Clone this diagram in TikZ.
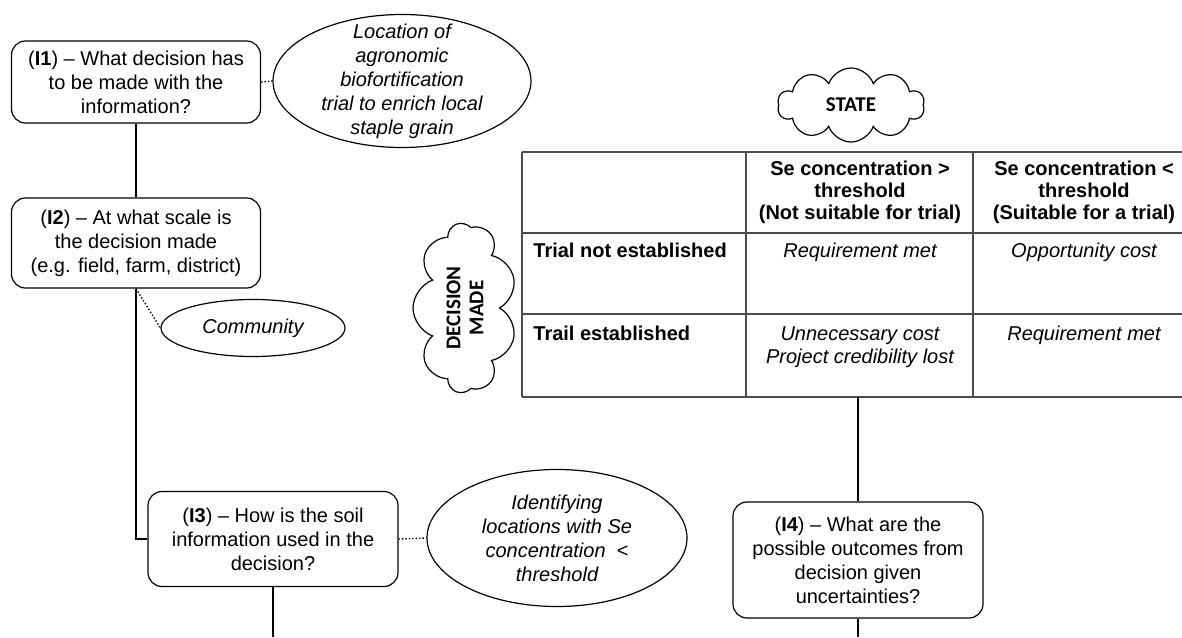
\documentclass[tikz,border=0pt]{standalone}
\usepackage{fontspec}
\setmainfont{Liberation Sans}
\newfontfamily\cloudfont{Carlito}
\usetikzlibrary{shapes.geometric,shapes.symbols}
\tikzset{
  qbox/.style={draw, line width=.6pt, rounded corners=7pt, align=center,
    minimum width=124.5pt, inner sep=2pt},
  note/.style={ellipse, draw, line width=.6pt, inner sep=0pt, inner ysep=-20pt,
    align=center, font=\fontsize{10}{12}\selectfont\itshape},
  link/.style={line width=.9pt},
  dotlink/.style={line width=.7pt, densely dotted},
  tabline/.style={line width=1pt, black!70},
  hdcell/.style={align=center, inner sep=0pt, font=\fontsize{10}{10.9}\selectfont\bfseries},
  rowcell/.style={anchor=north west, inner sep=0pt, font=\fontsize{10}{12}\selectfont\bfseries},
  outcell/.style={anchor=north, align=center, inner sep=0pt, font=\fontsize{10}{11.8}\selectfont\itshape},
  puff/.style={cloud, draw, line width=.6pt, cloud puffs=10, cloud puff arc=140, cloud ignores aspect,
    align=center, inner sep=0pt, font=\cloudfont\fontsize{10.5}{11.5}\selectfont\bfseries},
}
\begin{document}
\begin{tikzpicture}[x=.5pt, y=-.5pt, font=\fontsize{10}{12}\selectfont]
  \useasboundingbox (0,0) rectangle (1182,637);
  % question boxes
  \node[qbox, minimum height=41pt] (i1) at (136,82) {(\textbf{I1}) -- What decision has\\to be made with the\\information?};
  \node[qbox, minimum height=45pt] (i2) at (136,243) {(\textbf{I2}) -- At what scale is\\the decision made\\(e.g. field, farm, district)};
  \node[qbox, minimum width=125pt, minimum height=47.5pt] (i3) at (273,539) {(\textbf{I3}) -- How is the soil\\information used in the\\decision?};
  \node[qbox, minimum width=125pt, minimum height=58pt] (i4) at (858,560) {(\textbf{I4}) -- What are the\\possible outcomes from\\decision given\\uncertainties?};
  % answers
  \node[note, minimum width=129pt, minimum height=66.5pt] (loc) at (402,81) {Location of\\agronomic\\biofortification\\trial to enrich local\\staple grain};
  \node[note, minimum width=92pt, minimum height=28.5pt] (comm) at (253,328) {Community};
  \node[note, minimum width=130pt, minimum height=68.5pt] (ident) at (557,538) {Identifying\\locations with Se\\concentration~~<\\threshold};
  % clouds
  \node[puff, minimum width=73.5pt, minimum height=37pt] (state) at (851,105) {STATE};
  \node[puff, rotate=90, cloud puffs=9, minimum width=85pt, minimum height=52pt] (made) at (465,308) {DECISION\\MADE};
  % table
  \foreach \y in {152,233,314,397}
    \draw[tabline] (522,\y) -- (1182,\y);
  \foreach \x in {522,746,973}
    \draw[tabline] (\x,152) -- (\x,397);
  \node[hdcell] (hd1) at (860,192.5) {Se concentration >\\threshold\\(Not suitable for trial)};
  \node[hdcell] (hd2) at (1084,192.5) {Se concentration <\\threshold\\(Suitable for a trial)};
  \node[rowcell] (row1) at (533,243) {Trial not established};
  \node[rowcell] (row2) at (533,326) {Trail established};
  \node[outcell] (o11) at (860,243) {Requirement met};
  \node[outcell] (o12) at (1084,243) {Opportunity cost};
  \node[outcell] (o21) at (860,326) {Unnecessary cost\\Project credibility lost};
  \node[outcell] (o22) at (1084,326) {Requirement met};
  \coordinate (tabfoot) at (858,397);
  \coordinate (i3end) at (273,637);
  \coordinate (i4end) at (858,637);
  % connectors
  \draw[link] (i1) -- (i2);
  \draw[link] (i2.south) |- (i3.west);
  \draw[link] (i3) -- (i3end);
  \draw[link] (tabfoot) -- (i4);
  \draw[link] (i4) -- (i4end);
  \draw[dotlink] (i1.east) -- (loc.west);
  \draw[dotlink] (i2.south) -- (comm.west);
  \draw[dotlink] (i3.east) -- (ident.west);
\end{tikzpicture}
\end{document}
